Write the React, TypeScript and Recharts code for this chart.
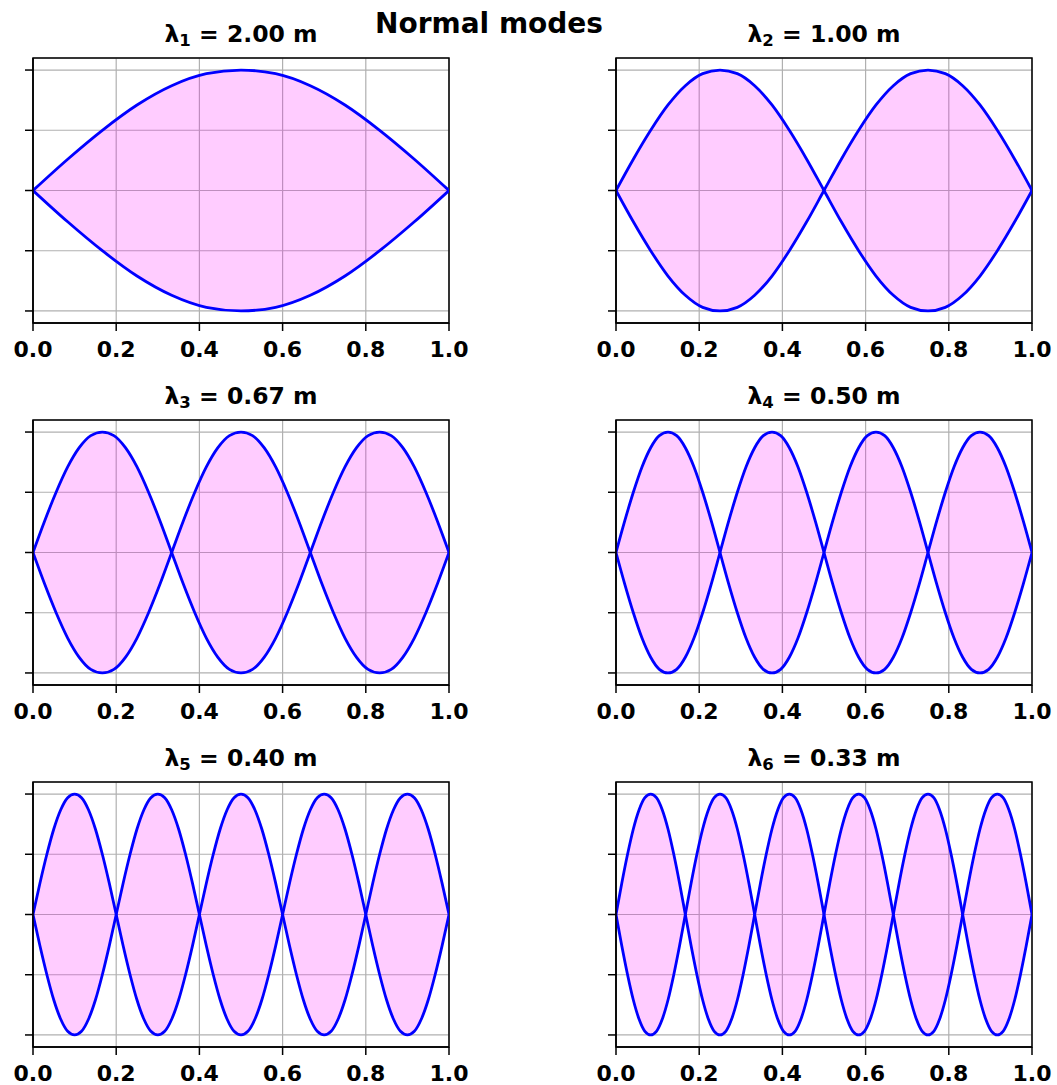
import React from 'react'
import { ComposedChart, Line, Area, XAxis, YAxis, CartesianGrid, ReferenceArea } from 'recharts'

// mode numbers and the wavelength shown in each panel title
const modes = [1, 2, 3, 4, 5, 6]
const wavelengths = ['2.00', '1.00', '0.67', '0.50', '0.40', '0.33']

// shape of one lobe at 12 equal steps across a lobe
const lobeProfile = [0, 0.26, 0.5, 0.71, 0.87, 0.97, 1, 0.97, 0.87, 0.71, 0.5, 0.26, 0]

const xTicks = [0, 0.2, 0.4, 0.6, 0.8, 1.0]
const yTicks = [-1, -0.5, 0, 0.5, 1]
const xDomain = [0, 1]
const yDomain = [-1.1, 1.1]

const FONT = "'DejaVu Sans', sans-serif"
const BLUE = '#0000ff'
const SPINE = { stroke: '#000', strokeWidth: 1.5 }

// plot box geometry (matplotlib axes)
const AX_W = 416
const AX_H = 265
const colLeft = [33, 616]
const rowTop = [58, 420, 782]
const PAD_L = 30
const PAD_T = 10
const PAD_R = 22
const PAD_B = 45

function buildRows(n: number) {
  const steps = lobeProfile.length - 1
  const rows: { x: number; up: number; down: number }[] = []
  for (let j = 0; j < n; j++) {
    const sign = j % 2 === 0 ? 1 : -1
    for (let k = 0; k < steps; k++) {
      const v = sign * lobeProfile[k]
      rows.push({ x: (j + k / steps) / n, up: v, down: -v })
    }
  }
  rows.push({ x: 1, up: 0, down: 0 })
  return rows
}

function ModePanel({ n }: { n: number }) {
  const data = buildRows(n)
  return (
    <ComposedChart
      width={AX_W + PAD_L + PAD_R}
      height={AX_H + PAD_T + PAD_B}
      data={data}
      margin={{ top: PAD_T, right: PAD_R, bottom: 0, left: 0 }}
    >
      <CartesianGrid stroke="#b0b0b0" strokeWidth={1.2} />
      <Area dataKey="up" type="monotone" baseValue={0} fill="#ff00ff" fillOpacity={0.2} stroke="none" isAnimationActive={false} />
      <Area dataKey="down" type="monotone" baseValue={0} fill="#ff00ff" fillOpacity={0.2} stroke="none" isAnimationActive={false} />
      <Line dataKey="up" type="monotone" stroke={BLUE} strokeWidth={2.8} dot={false} isAnimationActive={false} />
      <Line dataKey="down" type="monotone" stroke={BLUE} strokeWidth={2.8} dot={false} isAnimationActive={false} />
      <ReferenceArea
        x1={xDomain[0]}
        x2={xDomain[1]}
        y1={yDomain[0]}
        y2={yDomain[1]}
        fill="none"
        fillOpacity={0}
        stroke="#000"
        strokeWidth={1.5}
        ifOverflow="visible"
      />
      <XAxis
        dataKey="x"
        type="number"
        domain={xDomain}
        ticks={xTicks}
        tickFormatter={(v: number) => v.toFixed(1)}
        height={PAD_B}
        tickSize={8}
        tickMargin={10}
        interval={0}
        allowDataOverflow
        axisLine={SPINE}
        tickLine={SPINE}
        tick={{ fill: '#000', fontSize: 22, fontWeight: 'bold', fontFamily: FONT }}
      />
      <YAxis
        type="number"
        domain={yDomain}
        ticks={yTicks}
        allowDataOverflow
        width={PAD_L}
        tickSize={8}
        interval={0}
        tickFormatter={() => ''}
        axisLine={SPINE}
        tickLine={SPINE}
      />
    </ComposedChart>
  )
}

export default function App() {
  return (
    <div style={{ position: 'relative', width: 1057, height: 1085, background: '#fff', overflow: 'hidden' }}>
      <style>{`body{margin:0}`}</style>
      {modes.map((n, i) => {
        const col = i % 2
        const row = Math.floor(i / 2)
        return (
          <div
            key={n}
            style={{ position: 'absolute', left: colLeft[col] - PAD_L, top: rowTop[row] - PAD_T }}
          >
            <ModePanel n={n} />
          </div>
        )
      })}
      <svg width={1057} height={1085} style={{ position: 'absolute', left: 0, top: 0, pointerEvents: 'none' }}>
        <text x={489} y={33} textAnchor="middle" fontFamily={FONT} fontWeight="bold" fontSize={28} fill="#000">
          Normal modes
        </text>
        {modes.map((n, i) => {
          const col = i % 2
          const row = Math.floor(i / 2)
          const cx = colLeft[col] + AX_W / 2
          const y = rowTop[row] - 16
          return (
            <text
              key={n}
              x={cx}
              y={y}
              textAnchor="middle"
              fontFamily={FONT}
              fontWeight="bold"
              fontSize={23.5}
              fill="#000"
              style={{ whiteSpace: 'pre' }}
            >
              λ
              <tspan fontSize={16.5} dy={4}>{n}</tspan>
              <tspan dy={-4}>{` = ${wavelengths[i]} m`}</tspan>
            </text>
          )
        })}
      </svg>
    </div>
  )
}
